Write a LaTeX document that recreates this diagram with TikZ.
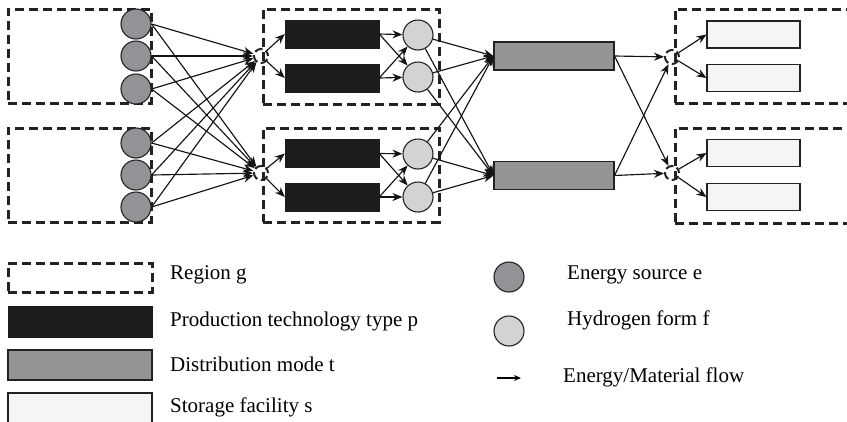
\documentclass[tikz,border=0pt]{standalone}
\usepackage{fontspec}
\setmainfont{Liberation Serif}
\usetikzlibrary{arrows.meta}
\definecolor{srcgray}{HTML}{939397}
\definecolor{h2gray}{HTML}{D3D3D5}
\definecolor{prodblack}{HTML}{1C1C1E}
\definecolor{distgray}{HTML}{949497}
\definecolor{storwhite}{HTML}{F4F6F5}
\definecolor{edge}{HTML}{222222}
\tikzset{
  region/.style={draw=edge, line width=3pt, dash pattern=on 9pt off 5pt, inner sep=0pt},
  esrc/.style={circle, draw=edge, line width=1.1pt, fill=srcgray, minimum size=30pt, inner sep=0pt},
  hform/.style={circle, draw=edge, line width=1.1pt, fill=h2gray, minimum size=30pt, inner sep=0pt},
  prod/.style={draw=prodblack, fill=prodblack, minimum width=94pt, minimum height=28pt, inner sep=0pt},
  dist/.style={draw=edge, line width=1.1pt, fill=distgray, minimum width=120pt, minimum height=28pt, inner sep=0pt},
  stor/.style={draw=edge, line width=1.1pt, fill=storwhite, minimum width=93pt, minimum height=27pt, inner sep=0pt},
  merge/.style={circle, draw=edge, line width=2pt, dash pattern=on 8pt off 3.5pt, dash phase=2pt, minimum size=14pt, inner sep=0pt},
  flow/.style={draw=black!92, line width=1.15pt, -{Stealth[length=10pt,width=8pt]}},
  lbl/.style={anchor=west, inner sep=0pt, font=\fontsize{21}{25}\selectfont}
}
\begin{document}
\begin{tikzpicture}[x=1pt,y=-1pt]
\clip (0,0) rectangle (847,421);
\fill[white] (0,0) rectangle (847,421);
% regions
\node[region, minimum width=143pt, minimum height=94pt] (r1) at (79.5,56) {};
\node[region, minimum width=143pt, minimum height=94pt] (r2) at (79.5,175) {};
\node[region, minimum width=176pt, minimum height=95pt] (r3) at (351,56.5) {};
\node[region, minimum width=176pt, minimum height=94pt] (r4) at (351,175) {};
\node[region, minimum width=225pt, minimum height=94pt] (r5) at (787.5,56) {};
\node[region, minimum width=225pt, minimum height=95pt] (r6) at (787.5,175.5) {};
% energy sources
\node[esrc] (e1) at (136,24) {};
\node[esrc] (e2) at (136,56) {};
\node[esrc] (e3) at (136,89) {};
\node[esrc] (e4) at (136,143) {};
\node[esrc] (e5) at (136,175) {};
\node[esrc] (e6) at (136,207) {};
% merge points
\node[merge] (m1) at (261,56) {};
\node[merge] (m2) at (261,173) {};
\node[merge] (m3) at (672,57) {};
\node[merge] (m4) at (672,173) {};
% production
\node[prod] (b1) at (332,34) {};
\node[prod] (b2) at (332,78) {};
\node[prod] (b3) at (332,153.5) {};
\node[prod] (b4) at (332,197) {};
% hydrogen forms
\node[hform] (h1) at (418,35) {};
\node[hform] (h2) at (418,77) {};
\node[hform] (h3) at (418,154) {};
\node[hform] (h4) at (418,197) {};
% distribution
\node[dist] (d1) at (554,56) {};
\node[dist] (d2) at (554,175.5) {};
% storage
\node[stor] (s1) at (753.5,34.5) {};
\node[stor] (s2) at (753.5,78) {};
\node[stor] (s3) at (753.5,153) {};
\node[stor] (s4) at (753.5,197) {};
% flows: sources to merge points
\foreach \e in {e1,e2,e3,e4,e5,e6}{
  \draw[flow] (\e.east) -- (m1);
  \draw[flow] (\e.east) -- (m2);
}
% merge to production
\draw[flow] (m1) -- (b1.west);
\draw[flow] (m1) -- (b2.west);
\draw[flow] (m2) -- (b3.west);
\draw[flow] (m2) -- (b4.west);
% production to hydrogen forms
\draw[flow] (b1.east) -- (h1);
\draw[flow] (b1.east) -- (h2);
\draw[flow] (b2.east) -- (h2);
\draw[flow] (b2.east) -- (h1);
\draw[flow] (b3.east) -- (h3);
\draw[flow] (b3.east) -- (h4);
\draw[flow] (b4.east) -- (h4);
\draw[flow] (b4.east) -- (h3);
% hydrogen forms to distribution
\foreach \h in {h1,h2,h3,h4}{
  \draw[flow] (\h) -- (d1.west);
  \draw[flow] (\h) -- (d2.west);
}
% distribution to storage regions
\draw[flow] (d1.east) -- (m3);
\draw[flow] (d1.east) -- (m4);
\draw[flow] (d2.east) -- (m4);
\draw[flow] (d2.east) -- (m3);
% merge to storage
\draw[flow] (m3) -- (s1.west);
\draw[flow] (m3) -- (s2.west);
\draw[flow] (m4) -- (s3.west);
\draw[flow] (m4) -- (s4.west);
% legend
\node[region, minimum width=144pt, minimum height=29pt] (lr) at (80,277.5) {};
\node[prod, minimum width=144pt, minimum height=31pt] (lp) at (80,321.5) {};
\node[dist, minimum width=144pt, minimum height=30pt] (ld) at (80,365) {};
\node[stor, minimum width=144pt, minimum height=40pt] (ls) at (80,413) {};
\node[lbl] (tr) at (170,275) {Region g};
\node[lbl] (tp) at (170,321) {Production technology type p};
\node[lbl] (td) at (170,364) {Distribution mode t};
\node[lbl] (ts) at (170,407) {Storage facility s};
\node[esrc] (le) at (509,277) {};
\node[hform] (lh) at (509,331) {};
\coordinate (la1) at (497,378);
\coordinate (la2) at (521,378);
\draw[draw=black, line width=1.1pt, -{Stealth[length=7pt,width=6pt]}] (la1) -- (la2);
\node[lbl] (te) at (567,275) {Energy source e};
\node[lbl] (th) at (567,320) {Hydrogen form f};
\node[lbl] (tf) at (563,377) {Energy/Material flow};
\end{tikzpicture}
\end{document}
